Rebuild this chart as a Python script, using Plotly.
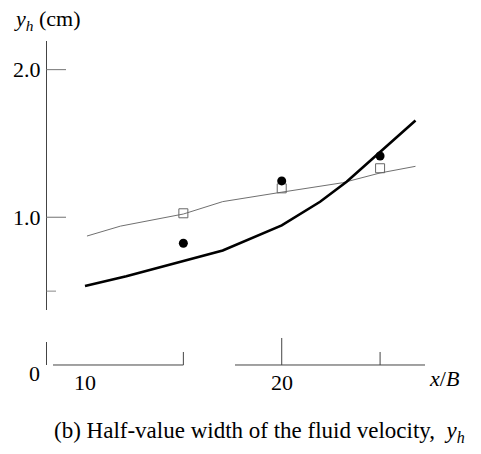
import plotly.graph_objects as go

# ---- data ----
thick_x = [10, 12.1, 17.0, 20, 21.95, 23.3, 26.8]
thick_y = [0.535, 0.60, 0.775, 0.945, 1.105, 1.24, 1.655]

thin_x = [10.1, 11.8, 15, 17.0, 20, 23.1, 25, 26.8]
thin_y = [0.873, 0.94, 1.022, 1.106, 1.17, 1.234, 1.30, 1.345]

square_x = [15, 20, 25]
square_y = [1.027, 1.196, 1.332]

circle_x = [15, 20, 25]
circle_y = [0.824, 1.246, 1.415]

y_tick_vals = [2.0, 1.0]
y_tick_text = ["2.0", "1.0"]
x_tick_vals = [10, 20]
x_tick_text = ["10", "20"]

# ---- layout geometry (pixel mapping) ----
W, H = 481, 454
X_RANGE = [5.679, 30.13]
Y_RANGE = [-0.6026, 2.471]
xpu = W / (X_RANGE[1] - X_RANGE[0])   # px per x unit
ypu = H / (Y_RANGE[1] - Y_RANGE[0])   # px per y unit

def px2x(p):
    return X_RANGE[0] + p / xpu

def py2y(p):
    return Y_RANGE[1] - p / ypu

FONT = "Liberation Serif, Times New Roman, serif"
AX = "#444444"
TK = "#888888"
FS = 22

fig = go.Figure()
fig.add_trace(go.Scatter(x=thin_x, y=thin_y, mode="lines",
                         line=dict(color="#707070", width=1), showlegend=False))
fig.add_trace(go.Scatter(x=thick_x, y=thick_y, mode="lines",
                         line=dict(color="black", width=2.6), showlegend=False))
fig.add_trace(go.Scatter(x=square_x, y=square_y, mode="markers",
                         marker=dict(symbol="square-open", size=9, color="#666666",
                                     line=dict(width=1)), showlegend=False))
fig.add_trace(go.Scatter(x=circle_x, y=circle_y, mode="markers",
                         marker=dict(symbol="circle", size=9, color="black"),
                         showlegend=False))

shapes = []
ax_x = px2x(46.5)
# y axis (broken)
shapes.append(dict(type="line", xref="x", yref="y", x0=ax_x, x1=ax_x,
                   y0=py2y(41), y1=py2y(310), line=dict(color=AX, width=1)))
shapes.append(dict(type="line", xref="x", yref="y", x0=ax_x, x1=ax_x,
                   y0=py2y(342), y1=0, line=dict(color=AX, width=1)))
# x axis (broken)
shapes.append(dict(type="line", xref="x", yref="y", x0=px2x(53), x1=15,
                   y0=0, y1=0, line=dict(color=AX, width=1)))
shapes.append(dict(type="line", xref="x", yref="y", x0=px2x(235), x1=px2x(425),
                   y0=0, y1=0, line=dict(color=AX, width=1)))
# y ticks (inside)
for v in y_tick_vals:
    shapes.append(dict(type="line", xref="x", yref="y", x0=ax_x, x1=px2x(66),
                       y0=v, y1=v, line=dict(color=TK, width=1.2)))
shapes.append(dict(type="line", xref="x", yref="y", x0=ax_x, x1=px2x(56),
                   y0=0.5, y1=0.5, line=dict(color=TK, width=1)))
# x ticks
for v, L in [(15, 13), (20, 27), (25, 13)]:
    shapes.append(dict(type="line", xref="x", yref="y", x0=v, x1=v,
                       y0=0, y1=L / ypu, line=dict(color=AX, width=1)))

annotations = []
for v, t in zip(y_tick_vals, y_tick_text):
    annotations.append(dict(x=px2x(43), y=v, xref="x", yref="y", text=t,
                            showarrow=False, xanchor="right", yanchor="middle",
                            font=dict(family=FONT, size=FS, color="black")))
annotations.append(dict(x=px2x(42), y=py2y(373), xref="x", yref="y", text="0",
                        showarrow=False, xanchor="right", yanchor="middle",
                        font=dict(family=FONT, size=FS, color="black")))
for v, t in zip(x_tick_vals, x_tick_text):
    annotations.append(dict(x=v, y=py2y(382), xref="x", yref="y", text=t,
                            showarrow=False, xanchor="center", yanchor="middle",
                            font=dict(family=FONT, size=FS, color="black")))
annotations.append(dict(x=px2x(444), y=py2y(378), xref="x", yref="y",
                        text="<i>x</i>/<i>B</i>", showarrow=False,
                        xanchor="center", yanchor="middle",
                        font=dict(family=FONT, size=FS, color="black")))
annotations.append(dict(x=px2x(12), y=py2y(20), xref="x", yref="y",
                        text="<i>y</i><sub><i>h</i></sub> (cm)", showarrow=False,
                        xanchor="left", yanchor="middle",
                        font=dict(family=FONT, size=FS, color="black")))
annotations.append(dict(x=px2x(259), y=py2y(432), xref="x", yref="y",
                        text="(b) Half-value width of the fluid velocity,  <i>y</i><sub><i>h</i></sub>",
                        showarrow=False, xanchor="center", yanchor="middle",
                        font=dict(family=FONT, size=23, color="black")))

fig.update_layout(
    width=W, height=H, margin=dict(l=0, r=0, t=0, b=0),
    paper_bgcolor="white", plot_bgcolor="white",
    xaxis=dict(range=X_RANGE, visible=False, fixedrange=True),
    yaxis=dict(range=Y_RANGE, visible=False, fixedrange=True),
    shapes=shapes, annotations=annotations, showlegend=False,
)
fig.write_html("out.html")
